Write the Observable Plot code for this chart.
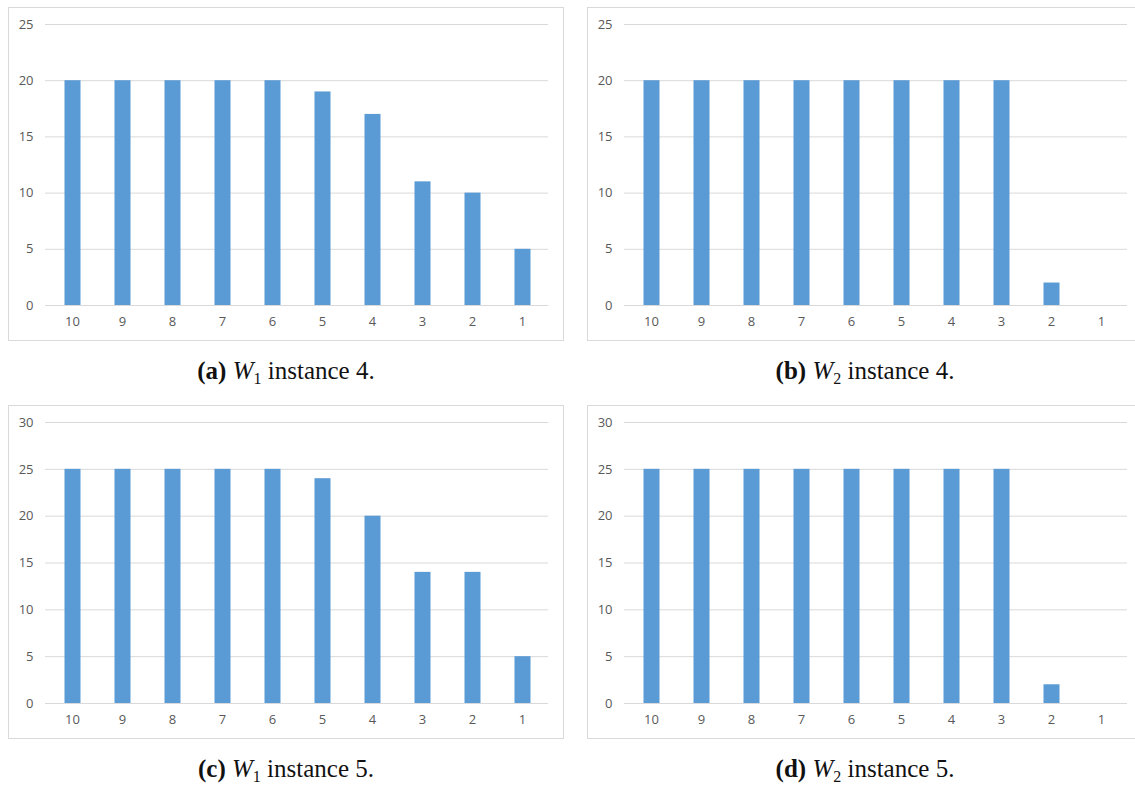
<!DOCTYPE html>
<html>
<head>
<meta charset="utf-8">
<script src="https://cdn.jsdelivr.net/npm/d3@7"></script>
<script src="https://cdn.jsdelivr.net/npm/@observablehq/plot@0.6"></script>
<style>
  html, body { margin: 0; padding: 0; background: #fff; }
  body { width: 1135px; height: 785px; overflow: hidden; position: relative; }
  .panel { position: absolute; width: 556px; height: 334px; }
  .frame { position: absolute; left: 0; top: 0; width: 556px; height: 334px; box-sizing: border-box; border: 1px solid #d9d9d9; pointer-events: none; }
  .panel svg { position: absolute; left: 0; top: 0; }
  .caption { position: absolute; width: 556px; text-align: center; font-family: "Liberation Serif", serif; font-size: 25px; color: #111; line-height: 1; }
  .caption sub { font-size: 16px; vertical-align: -5px; line-height: 0; }
</style>
</head>
<body>
<script>
const categories = ["10", "9", "8", "7", "6", "5", "4", "3", "2", "1"];
const valuesA = [20, 20, 20, 20, 20, 19, 17, 11, 10, 5];
const valuesB = [20, 20, 20, 20, 20, 20, 20, 20, 2, 0];
const valuesC = [25, 25, 25, 25, 25, 24, 20, 14, 14, 5];
const valuesD = [25, 25, 25, 25, 25, 25, 25, 25, 2, 0];
const ticksTop = [0, 5, 10, 15, 20, 25];
const ticksBottom = [0, 5, 10, 15, 20, 25, 30];
const captions = [
  {tag: "(a)", w: "1", inst: "4"},
  {tag: "(b)", w: "2", inst: "4"},
  {tag: "(c)", w: "1", inst: "5"},
  {tag: "(d)", w: "2", inst: "5"}
];

const panels = [
  {values: valuesA, ticks: ticksTop, left: 8, top: 7},
  {values: valuesB, ticks: ticksTop, left: 587, top: 7},
  {values: valuesC, ticks: ticksBottom, left: 8, top: 405},
  {values: valuesD, ticks: ticksBottom, left: 587, top: 405}
];

panels.forEach((p, i) => {
  const data = categories.map((c, j) => ({cat: c, value: p.values[j]}));
  const chart = Plot.plot({
    width: 556,
    height: 334,
    marginLeft: 37,
    marginRight: 16,
    marginTop: 17,
    marginBottom: 36,
    style: {fontFamily: "'Open Sans', sans-serif", fontSize: "13px", color: "#595959", background: "transparent"},
    x: {type: "band", domain: categories, paddingInner: 0.68, paddingOuter: 0.34, axis: null},
    y: {domain: [0, p.ticks[p.ticks.length - 1]], axis: null},
    marks: [
      Plot.gridY(p.ticks, {stroke: "#d9d9d9", strokeOpacity: 1, strokeWidth: 1}),
      Plot.barY(data, {x: "cat", y: "value", fill: "#5b9bd5", insetLeft: 0.5, insetRight: -0.5}),
      Plot.axisY(p.ticks, {tickSize: 0, tickPadding: 12, fontSize: 13, label: null}),
      Plot.axisX({tickSize: 0, tickPadding: 11, fontSize: 13, label: null})
    ]
  });
  chart.querySelectorAll("text").forEach(t => t.setAttribute("font-size", "13"));
  const div = document.createElement("div");
  div.className = "panel";
  div.style.left = p.left + "px";
  div.style.top = p.top + "px";
  div.appendChild(chart);
  const frame = document.createElement("div");
  frame.className = "frame";
  div.appendChild(frame);
  document.body.appendChild(div);

  const cap = document.createElement("div");
  cap.className = "caption";
  cap.style.left = p.left + "px";
  cap.style.top = (p.top + 351) + "px";
  const c = captions[i];
  cap.innerHTML = `<b>${c.tag}</b> <i>W</i><sub>${c.w}</sub> instance ${c.inst}.`;
  document.body.appendChild(cap);
});
</script>
</body>
</html>
